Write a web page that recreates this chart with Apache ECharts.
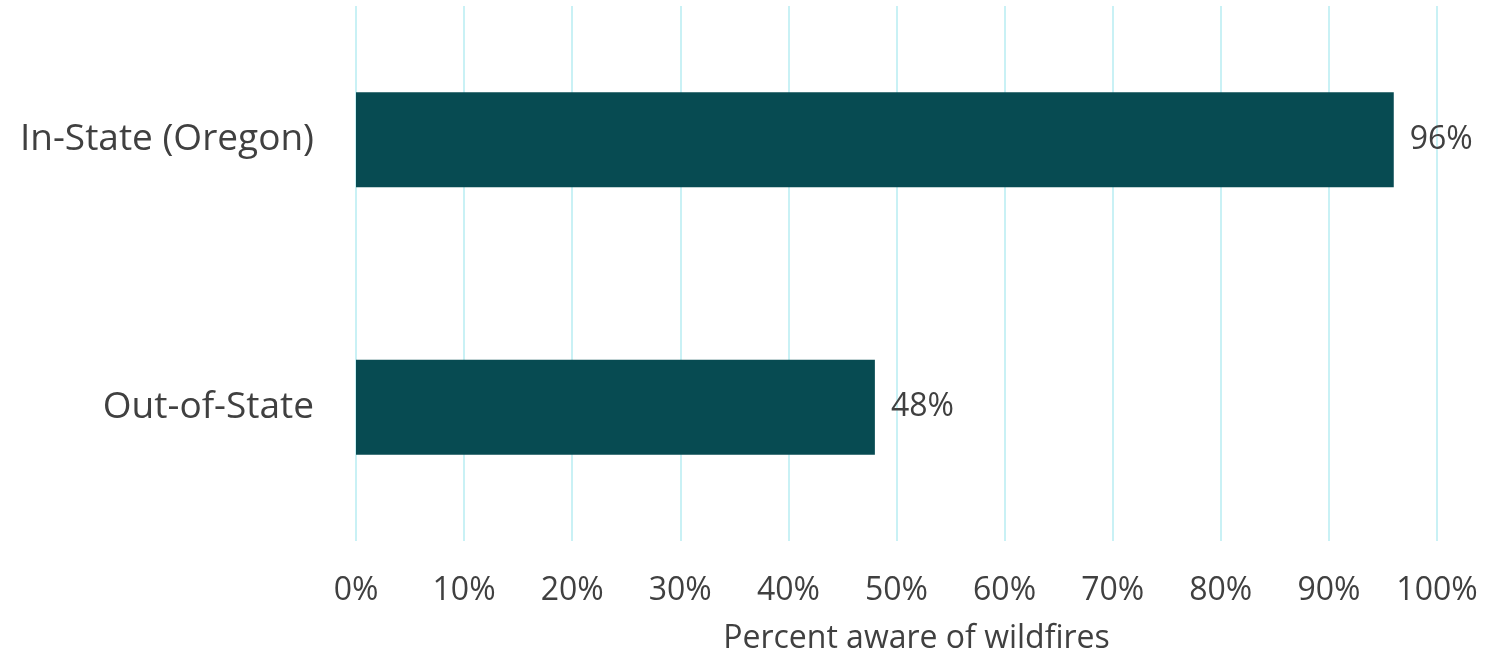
<!DOCTYPE html>
<html><head><meta charset="utf-8">
<script src="https://cdn.jsdelivr.net/npm/echarts@6/dist/echarts.min.js"></script>
<style>html,body{margin:0;padding:0;background:#fff}#c{width:1492px;height:653px}</style>
</head><body><div id="c"></div>
<script>
const categories = ['Out-of-State', 'In-State (Oregon)'];
const values = [48, 96];
const xTicks = [0, 10, 20, 30, 40, 50, 60, 70, 80, 90, 100];
const axisTitle = 'Percent aware of wildfires';

const chart = echarts.init(document.getElementById('c'), null, {renderer: 'canvas'});
const font = '"Open Sans", sans-serif';
chart.setOption({
  animation: false,
  grid: {left: 356, right: 55, top: 6, bottom: 112, containLabel: false, outerBoundsMode: 'none'},
  xAxis: {
    type: 'value', min: xTicks[0], max: xTicks[xTicks.length - 1], interval: 10,
    axisLine: {show: false}, axisTick: {show: false},
    splitLine: {show: true, lineStyle: {color: '#C9F1F5', width: 2}},
    axisLabel: {formatter: v => v + '%', color: '#404040', fontSize: 32, fontFamily: font, margin: 34},
    name: axisTitle, nameLocation: 'middle', nameGap: 82,
    nameTextStyle: {color: '#404040', fontSize: 32, fontFamily: font, padding: [0, 0, 0, 40]}
  },
  yAxis: {
    type: 'category', data: categories,
    axisLine: {show: false}, axisTick: {show: false},
    axisLabel: {color: '#404040', fontSize: 37, fontFamily: font, margin: 42}
  },
  series: [{
    type: 'bar', data: values, barWidth: '35.5%',
    itemStyle: {color: '#074B52'},
    label: {show: true, position: 'right', distance: 16, formatter: p => p.value + '%',
      color: '#404040', fontSize: 32, fontFamily: font}
  }]
});
</script></body></html>
